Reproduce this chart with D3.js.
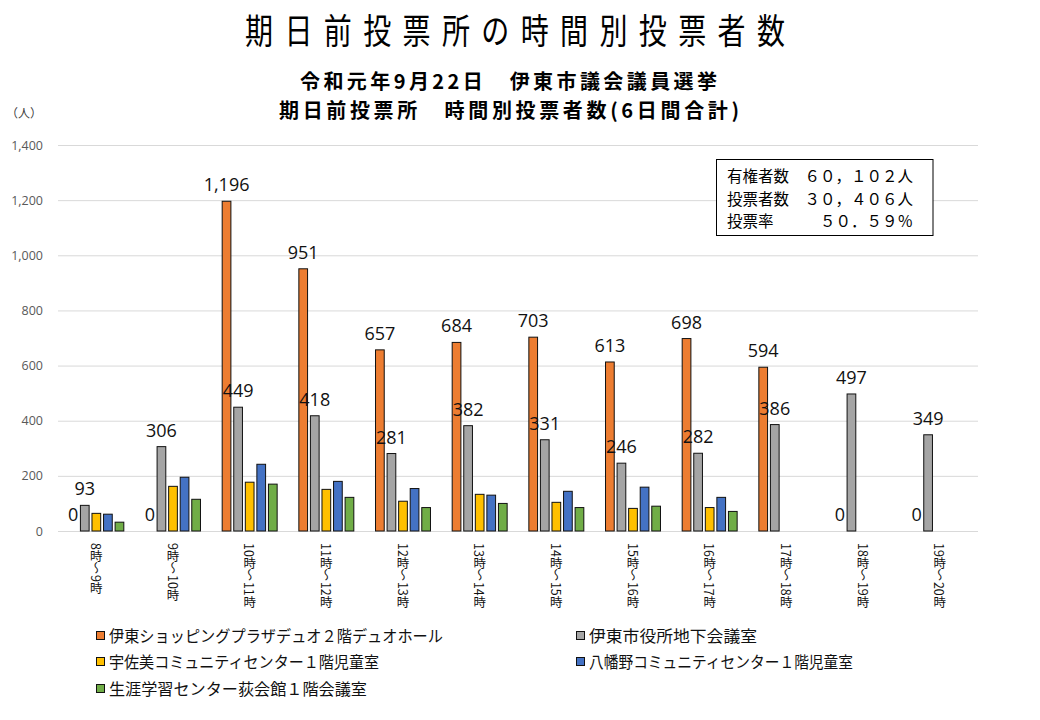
<!DOCTYPE html>
<html><head><meta charset="utf-8">
<script src="https://cdn.jsdelivr.net/npm/d3@7"></script>
<style>
html,body{margin:0;padding:0;background:#fff;}
svg{display:block;}
</style></head>
<body>
<svg id="chart" width="1040" height="720"></svg>
<script>
// ---- data ----
const categories = ["8時～9時","9時～10時","10時～11時","11時～12時","12時～13時","13時～14時","14時～15時","15時～16時","16時～17時","17時～18時","18時～19時","19時～20時"];
const seriesNames = ["伊東ショッピングプラザデュオ２階デュオホール","伊東市役所地下会議室","宇佐美コミュニティセンター１階児童室","八幡野コミュニティセンター１階児童室","生涯学習センター荻会館１階会議室"];
const duo      = [0, 0, 1196, 951, 657, 684, 703, 613, 698, 594, 0, 0];
const cityHall = [93, 306, 449, 418, 281, 382, 331, 246, 282, 386, 497, 349];
const usami    = [64, 162, 177, 151, 108, 133, 104, 82, 85, null, null, null];
const yawatano = [61, 195, 242, 180, 154, 130, 144, 159, 122, null, null, null];
const ogi      = [32, 115, 170, 122, 85, 100, 85, 90, 71, null, null, null];
const yTicks = [0, 200, 400, 600, 800, 1000, 1200, 1400];
const labeledSeries = [0, 1];
const subtitleLines = ["令和元年9月22日　伊東市議会議員選挙", "期日前投票所　時間別投票者数(6日間合計)"];
const infoLines = ["有権者数　６０，１０２人", "投票者数　３０，４０６人", "投票率　　　５０．５９％"];

// ---- layout / style ----
const seriesValues = [duo, cityHall, usami, yawatano, ogi];
const colors = ["#ED7D31", "#A5A5A5", "#FFC000", "#4472C4", "#70AD47"];
const legendPos = [[96, 636], [576, 636], [96, 662], [576, 662], [96, 689]];
const legendTextWidths = [334, 168, 270, 264, 258];
const subtitleLayout = [{x: 508.5, y: 88.5, w: 417}, {x: 509, y: 117.5, w: 460}];

const svg = d3.select("#chart");
const cjk = "'Noto Sans CJK JP', sans-serif";
const num = "'Open Sans', 'Liberation Sans', sans-serif";

const plot = {left: 58, right: 978, top: 145, bottom: 531};

const y = d3.scaleLinear().domain([0, 1400]).range([plot.bottom, plot.top]);
const x0 = d3.scaleBand().domain(categories).range([plot.left, plot.right]).paddingInner(0.27).paddingOuter(0.135);
const x1 = d3.scaleBand().domain(d3.range(seriesNames.length)).range([0, x0.bandwidth()]).paddingInner(0.16);

// Titles
svg.append("text")
  .attr("transform", "translate(515,44) scale(0.8,1)")
  .attr("text-anchor", "middle")
  .attr("textLength", 540 / 0.8).attr("lengthAdjust", "spacing")
  .attr("font-family", cjk).attr("font-size", 35).attr("font-weight", 400)
  .attr("fill", "#000")
  .text("期日前投票所の時間別投票者数");

svg.append("g").selectAll("text").data(subtitleLines).join("text")
  .attr("x", (d, i) => subtitleLayout[i].x)
  .attr("y", (d, i) => subtitleLayout[i].y)
  .attr("text-anchor", "middle")
  .attr("textLength", (d, i) => subtitleLayout[i].w).attr("lengthAdjust", "spacing")
  .attr("font-family", cjk).attr("font-size", 20).attr("font-weight", 700)
  .text(d => d);

svg.append("text")
  .attr("x", 6).attr("y", 118)
  .attr("font-family", cjk).attr("font-size", 12).attr("fill", "#404040")
  .text("（人）");

// Grid lines + y axis
const yAxis = d3.axisLeft(y).tickValues(yTicks).tickFormat(d3.format(",")).tickSize(-(plot.right - plot.left)).tickPadding(15);
const gy = svg.append("g").attr("transform", `translate(${plot.left},0)`).call(yAxis);
gy.select(".domain").remove();
gy.selectAll(".tick line").attr("stroke", "#d9d9d9").attr("stroke-width", 1);
gy.selectAll(".tick text").attr("font-family", num).attr("font-size", 12.5).attr("fill", "#595959");

// Bars
const groups = svg.append("g").selectAll("g")
  .data(categories).join("g")
  .attr("transform", d => `translate(${x0(d)},0)`);

groups.selectAll("rect")
  .data((c, i) => seriesValues.map((vals, s) => ({s, v: vals[i]})).filter(d => d.v != null && d.v > 0))
  .join("rect")
  .attr("x", d => x1(d.s) + 0.5)
  .attr("width", x1.bandwidth() - 1)
  .attr("y", d => y(d.v))
  .attr("height", d => y(0) - y(d.v))
  .attr("fill", d => colors[d.s])
  .attr("stroke", "#111").attr("stroke-width", 1);

// Data labels
groups.selectAll("text.lbl")
  .data((c, i) => labeledSeries.map(s => ({s, v: seriesValues[s][i]})).filter(d => d.v != null))
  .join("text").attr("class", "lbl")
  .attr("x", d => x1(d.s) + x1.bandwidth() / 2)
  .attr("y", d => y(d.v) - 10)
  .attr("text-anchor", "middle")
  .attr("font-family", num).attr("font-size", 18).attr("fill", "#111")
  .text(d => d3.format(",")(d.v));

// X axis labels (vertical)
svg.append("g").selectAll("text")
  .data(categories).join("text")
  .attr("x", d => x0(d) + x0.bandwidth() / 2)
  .attr("y", 543)
  .attr("writing-mode", "vertical-rl")
  .attr("font-family", cjk).attr("font-size", 12.5).attr("fill", "#111")
  .text(d => d);

// Info box
const box = svg.append("g");
box.append("rect").attr("x", 716.5).attr("y", 159.5).attr("width", 216.5).attr("height", 76)
  .attr("fill", "#fff").attr("stroke", "#000").attr("stroke-width", 1);
box.selectAll("text").data(infoLines).join("text")
  .attr("x", 727).attr("y", (d, i) => 182 + i * 22.5)
  .attr("font-family", cjk).attr("font-size", 15.5).attr("fill", "#000")
  .text(d => d);

// Legend
const lg = svg.append("g").selectAll("g").data(seriesNames).join("g")
  .attr("transform", (d, i) => `translate(${legendPos[i][0]},${legendPos[i][1]})`);
lg.append("rect").attr("x", 0.5).attr("y", -4.5).attr("width", 8).attr("height", 8)
  .attr("fill", (d, i) => colors[i]).attr("stroke", "#111").attr("stroke-width", 1);
lg.append("text").attr("x", 13).attr("y", 6)
  .attr("textLength", (d, i) => legendTextWidths[i]).attr("lengthAdjust", "spacingAndGlyphs")
  .attr("font-family", cjk).attr("font-size", 16).attr("fill", "#111")
  .text(d => d);
</script>
</body></html>
